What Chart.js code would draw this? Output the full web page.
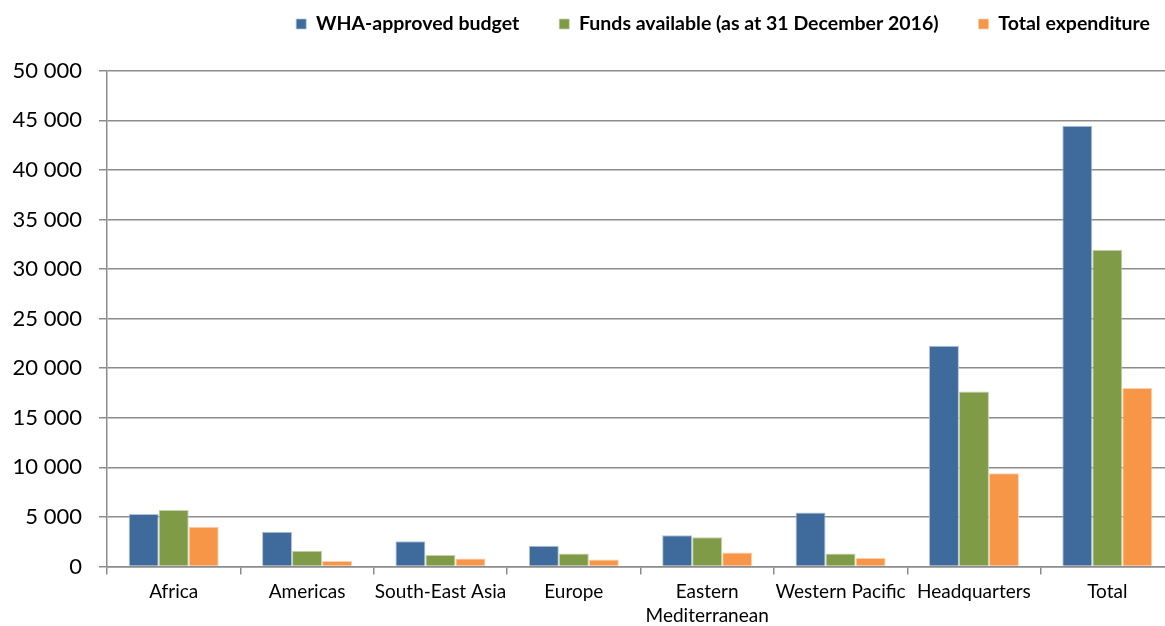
<!DOCTYPE html>
<html>
<head>
<meta charset="utf-8">
<script src="https://cdn.jsdelivr.net/npm/chart.js@4/dist/chart.umd.min.js"></script>
<style>
  html, body { margin: 0; padding: 0; background: #ffffff; overflow: hidden; }
  #wrap { width: 1174px; height: 626px; }
</style>
</head>
<body>
<div id="wrap"><canvas id="chart" width="1174" height="626"></canvas></div>
<script>
// Regions (last category runs slightly past the right edge of the page)
const categories = ['Africa', 'Americas', 'South-East Asia', 'Europe',
  ['Eastern', 'Mediterranean'], 'Western Pacific', 'Headquarters', 'Total'];

// US$ thousands
const budget      = [5300, 3500, 2550, 2100, 3150, 5450, 22250, 44450];
const fundsAvail  = [5700, 1600, 1150, 1300, 2950, 1300, 17650, 31950];
const expenditure = [4000,  550,  800,  700, 1400,  850,  9400, 18000];

const seriesNames = ['WHA-approved budget', 'Funds available (as at 31 December 2016)', 'Total expenditure'];

const yMin = 0, yMax = 50000, yStep = 5000;

const FONT = 'Lato, "Open Sans", "Liberation Sans", sans-serif';
const GRID = '#8c8c8c';
const LEGEND_GAP = 40;
const LEGEND_FONT = 19.5;

function spaced(v) {
  return String(v).replace(/\B(?=(\d{3})+(?!\d))/g, ' ');
}

// Keeps the legend tight at the top and right-aligned with wide item spacing
const legendPlacement = {
  id: 'legendPlacement',
  beforeLayout(chart) {
    const lg = chart.legend;
    if (lg && !lg._patched) {
      const fit = lg.fit;
      lg.fit = function () { fit.call(this); this.height = 70.7; };
      lg._patched = true;
    }
  },
  afterLayout(chart) {
    const lg = chart.legend;
    if (!lg) return;
    lg.right = 1150 + LEGEND_GAP;
    lg.top = 24 - LEGEND_GAP - LEGEND_FONT / 2;
  }
};

new Chart(document.getElementById('chart'), {
  type: 'bar',
  data: {
    labels: categories,
    datasets: [
      { label: seriesNames[0], data: budget,      backgroundColor: '#3F6A9C', borderColor: '#B3C4DA', borderWidth: { top: 1, left: 1, right: 1, bottom: 0 } },
      { label: seriesNames[1], data: fundsAvail,  backgroundColor: '#7F9B48', borderColor: '#C5D2AA', borderWidth: { top: 1, left: 1, right: 1, bottom: 0 } },
      { label: seriesNames[2], data: expenditure, backgroundColor: '#F69646', borderColor: '#FAD0AE', borderWidth: { top: 1, left: 1, right: 1, bottom: 0 } }
    ]
  },
  options: {
    responsive: false,
    animation: false,
    devicePixelRatio: 1,
    layout: { padding: 0 },
    datasets: { bar: { categoryPercentage: 0.675, barPercentage: 1.0 } },
    plugins: {
      legend: {
        position: 'top',
        align: 'end',
        labels: {
          boxWidth: 10,
          boxHeight: 10,
          padding: LEGEND_GAP,
          color: '#000000',
          font: { family: FONT, size: LEGEND_FONT, weight: 'bold' }
        }
      },
      tooltip: { enabled: false },
      title: { display: false }
    },
    scales: {
      x: {
        offset: true,
        grid: {
          offset: true,
          drawOnChartArea: false,
          drawTicks: true,
          tickLength: 8,
          color: GRID,
          lineWidth: 1.5
        },
        border: { color: GRID, width: 1.5 },
        ticks: {
          color: '#000000',
          padding: 5.5,
          maxRotation: 0,
          autoSkip: false,
          font: { family: FONT, size: 19, lineHeight: 1.26 }
        },
        afterFit(scale) { scale.height = 59.5; }
      },
      y: {
        min: yMin,
        max: yMax,
        grid: {
          color: GRID,
          lineWidth: 1.5,
          drawTicks: true,
          tickLength: 8
        },
        border: { color: GRID, width: 1.5 },
        ticks: {
          stepSize: yStep,
          color: '#000000',
          padding: 17,
          font: { family: FONT, size: 22 },
          callback: (v) => spaced(v)
        },
        afterFit(scale) { scale.width = 107; }
      }
    }
  },
  plugins: [legendPlacement]
});
</script>
</body>
</html>
